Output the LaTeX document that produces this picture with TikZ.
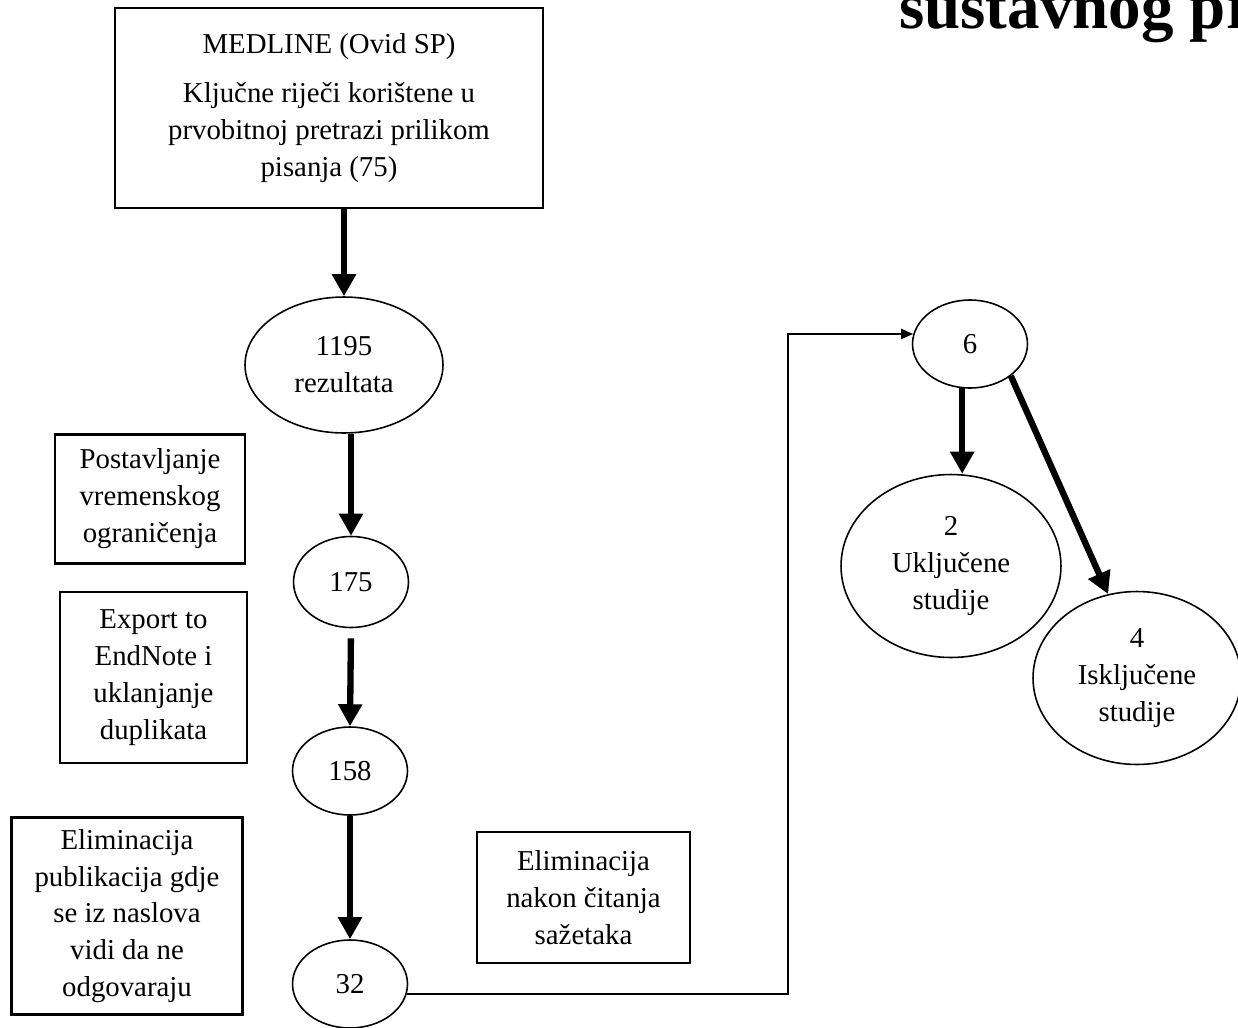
\documentclass[tikz,border=0pt]{standalone}
\usepackage{fontspec}
\setmainfont{Liberation Serif}
\usetikzlibrary{arrows.meta, shapes.geometric, positioning}

\begin{document}
\begin{tikzpicture}[x=0.02cm, y=-0.02cm,
    font=\fontsize{16.4}{21}\selectfont,
    okvir/.style={draw=black, line width=1.2pt, rectangle, align=center, inner sep=0pt},
    elipsa/.style={draw=black, line width=0.9pt, ellipse, align=center, inner sep=0pt},
    debela/.style={-{Triangle[length=0.44cm, width=0.46cm]}, line width=3.6pt},
    tanka/.style={-{Triangle[length=0.24cm, width=0.2cm]}, line width=1.1pt}]
            % OKVIR SLIKE
            \useasboundingbox (0,0) rectangle (1238,1028);
            \clip (0,0) rectangle (1238,1028);

            % Naslov (odrezan)
            \node[anchor=base west, font=\fontsize{37}{40}\selectfont\bfseries] (naslov) at (893,28) {sustavnog pr};

            % PRETRAGA
            \node[okvir, minimum width=8.56cm, minimum height=4cm] (medline) at (329,108)
            {MEDLINE (Ovid SP)\\[7pt] Ključne riječi korištene u\\ prvobitnoj pretrazi prilikom\\ pisanja (75)};

            % REZULTATI
            \node[elipsa, minimum width=3.96cm, minimum height=2.72cm] (n1195) at (344,365) {1195\\ rezultata};
            \node[elipsa, minimum width=2.3cm, minimum height=1.82cm] (n175) at (351,582) {175};
            \node[elipsa, minimum width=2.3cm, minimum height=1.76cm] (n158) at (350,771) {158};
            \node[elipsa, minimum width=2.3cm, minimum height=1.76cm] (n32) at (350,984) {32};
            \node[elipsa, minimum width=2.3cm, minimum height=1.76cm] (n6) at (970,344) {6};
            \node[elipsa, minimum width=4.4cm, minimum height=3.66cm] (n2) at (951,566) {2\\ Uključene\\ studije};
            \node[elipsa, minimum width=4.16cm, minimum height=3.46cm] (n4) at (1137,678) {4\\ Isključene\\ studije};

            % KORACI
            \node[okvir, minimum width=3.8cm, minimum height=2.58cm] (vrijeme) at (150,499)
            {Postavljanje\\ vremenskog\\ ograničenja};
            \node[okvir, minimum width=3.74cm, minimum height=3.42cm] (endnote) at (153.5,677.5)
            {Export to\\ EndNote i\\ uklanjanje\\ duplikata};
            \node[okvir, minimum width=4.62cm, minimum height=3.94cm] (naslovi) at (127,916)
            {Eliminacija\\ publikacija gdje\\ se iz naslova\\ vidi da ne\\ odgovaraju};
            \node[okvir, minimum width=4.26cm, minimum height=2.62cm] (sazeci) at (583.5,897.5)
            {Eliminacija\\ nakon čitanja\\ sažetaka};

            % STRELICE
            \draw[debela] (n1195.north |- medline.south) -- (n1195.north);
            \draw[debela] (n1195.south -| n175.north) -- (n175.north);
            \draw[debela, shorten <=0.2cm] (n175.south) -- (n158.north);
            \draw[debela] (n158.south) -- (n32.north);
            \draw[debela] (n6.260) -- (n6.260 |- n2.north);
            \draw[debela] (n6.-38) -- (n4.109);

            % Veza 32 -> 6
            \coordinate (skretanje) at (788,660);
            \draw[tanka] (n32.-10) -| (skretanje |- n6.170) -- (n6.170);
        \end{tikzpicture}
\end{document}
